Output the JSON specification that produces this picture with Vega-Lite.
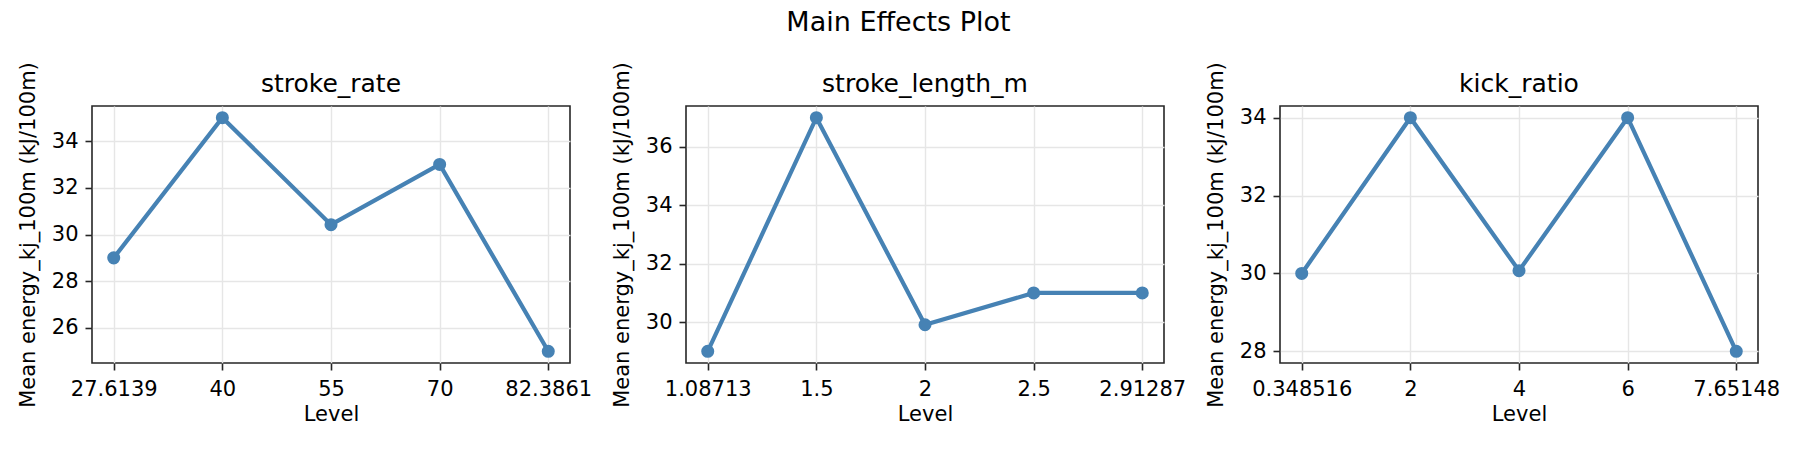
{
  "$schema": "https://vega.github.io/schema/vega-lite/v6.json",
  "background": "white",
  "padding": {"left": 16, "top": 8, "right": 5, "bottom": 5},
  "title": {"text": "Main Effects Plot", "fontSize": 27, "font": "DejaVu Sans", "fontWeight": "normal", "anchor": "middle", "color": "#000000", "offset": 24},
  "datasets": {
    "effects": [
      {"factor": "stroke_rate", "idx": 0, "level": "27.6139", "mean": 29.0},
      {"factor": "stroke_rate", "idx": 1, "level": "40", "mean": 35.0},
      {"factor": "stroke_rate", "idx": 2, "level": "55", "mean": 30.42},
      {"factor": "stroke_rate", "idx": 3, "level": "70", "mean": 33.0},
      {"factor": "stroke_rate", "idx": 4, "level": "82.3861", "mean": 25.0},
      {"factor": "stroke_length_m", "idx": 0, "level": "1.08713", "mean": 29.0},
      {"factor": "stroke_length_m", "idx": 1, "level": "1.5", "mean": 37.0},
      {"factor": "stroke_length_m", "idx": 2, "level": "2", "mean": 29.91},
      {"factor": "stroke_length_m", "idx": 3, "level": "2.5", "mean": 31.0},
      {"factor": "stroke_length_m", "idx": 4, "level": "2.91287", "mean": 31.0},
      {"factor": "kick_ratio", "idx": 0, "level": "0.348516", "mean": 30.0},
      {"factor": "kick_ratio", "idx": 1, "level": "2", "mean": 34.0},
      {"factor": "kick_ratio", "idx": 2, "level": "4", "mean": 30.07},
      {"factor": "kick_ratio", "idx": 3, "level": "6", "mean": 34.0},
      {"factor": "kick_ratio", "idx": 4, "level": "7.65148", "mean": 28.0}
    ]
  },
  "bounds": "flush",
  "spacing": 116,
  "hconcat": [
    {
      "width": 478, "height": 257,
      "title": {"text": "stroke_rate"},
      "data": {"name": "effects"},
      "transform": [{"filter": "datum.factor === 'stroke_rate'"}],
      "encoding": {
        "x": {"field": "level", "type": "ordinal", "sort": {"field": "idx", "op": "min"}, "scale": {"type": "point", "padding": 0.2}, "title": "Level"},
        "y": {"field": "mean", "type": "quantitative", "scale": {"domain": [24.5, 35.5], "nice": false, "zero": false}, "axis": {"values": [26, 28, 30, 32, 34]}, "title": "Mean energy_kj_100m (kJ/100m)"}
      },
      "layer": [
        {"mark": {"type": "line", "color": "#4682b4", "strokeWidth": 4.2}},
        {"mark": {"type": "point", "filled": true, "opacity": 1, "color": "#4682b4", "size": 170}}
      ]
    },
    {
      "width": 478, "height": 257,
      "title": {"text": "stroke_length_m"},
      "data": {"name": "effects"},
      "transform": [{"filter": "datum.factor === 'stroke_length_m'"}],
      "encoding": {
        "x": {"field": "level", "type": "ordinal", "sort": {"field": "idx", "op": "min"}, "scale": {"type": "point", "padding": 0.2}, "title": "Level"},
        "y": {"field": "mean", "type": "quantitative", "scale": {"domain": [28.6, 37.4], "nice": false, "zero": false}, "axis": {"values": [30, 32, 34, 36]}, "title": "Mean energy_kj_100m (kJ/100m)"}
      },
      "layer": [
        {"mark": {"type": "line", "color": "#4682b4", "strokeWidth": 4.2}},
        {"mark": {"type": "point", "filled": true, "opacity": 1, "color": "#4682b4", "size": 170}}
      ]
    },
    {
      "width": 478, "height": 257,
      "title": {"text": "kick_ratio"},
      "data": {"name": "effects"},
      "transform": [{"filter": "datum.factor === 'kick_ratio'"}],
      "encoding": {
        "x": {"field": "level", "type": "ordinal", "sort": {"field": "idx", "op": "min"}, "scale": {"type": "point", "padding": 0.2}, "title": "Level"},
        "y": {"field": "mean", "type": "quantitative", "scale": {"domain": [27.7, 34.3], "nice": false, "zero": false}, "axis": {"values": [28, 30, 32, 34]}, "title": "Mean energy_kj_100m (kJ/100m)"}
      },
      "layer": [
        {"mark": {"type": "line", "color": "#4682b4", "strokeWidth": 4.2}},
        {"mark": {"type": "point", "filled": true, "opacity": 1, "color": "#4682b4", "size": 170}}
      ]
    }
  ],
  "config": {
    "font": "DejaVu Sans",
    "view": {"stroke": "#262626", "strokeWidth": 1.6},
    "title": {"fontSize": 25, "fontWeight": "normal", "color": "#000000", "offset": -35, "font": "DejaVu Sans"},
    "axis": {
      "domain": false,
      "grid": true,
      "gridColor": "#e6e6e6",
      "gridWidth": 1.4,
      "ticks": true,
      "tickColor": "#262626",
      "tickSize": 7,
      "tickWidth": 1.6,
      "labelFontSize": 21,
      "labelColor": "#000000",
      "labelFont": "DejaVu Sans",
      "titleFontSize": 21,
      "titleFont": "DejaVu Sans",
      "titleFontWeight": "normal",
      "titleColor": "#000000"
    },
    "axisX": {"labelAngle": 0, "labelPadding": 8, "titlePadding": 4},
    "axisY": {"labelPadding": 7, "titlePadding": 13}
  }
}
